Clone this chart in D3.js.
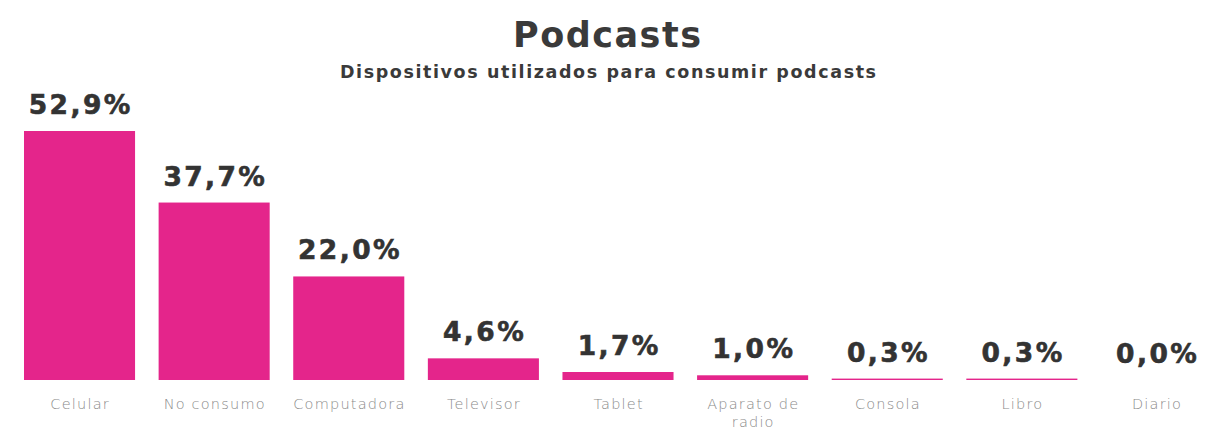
<!DOCTYPE html>
<html><head><meta charset="utf-8">
<script src="https://cdn.jsdelivr.net/npm/d3@7"></script>
<style>body{margin:0;background:#fff}svg{display:block}</style>
</head><body>
<svg id="chart" width="1207" height="432"></svg>
<script>
const categories = ["Celular","No consumo","Computadora","Televisor","Tablet","Aparato de radio","Consola","Libro","Diario"];
const values = [52.9, 37.7, 22.0, 4.6, 1.7, 1.0, 0.3, 0.3, 0.0];
const title = "Podcasts";
const subtitle = "Dispositivos utilizados para consumir podcasts";

const svg = d3.select("#chart");
const baseline = 380;
const x = d3.scaleBand().domain(categories).range([24, 1212]).paddingInner(0.175).paddingOuter(0);
const y = d3.scaleLinear().domain([0, 52.9]).range([baseline, 131]);
const pink = "#E4258B";
const fmt = v => v.toFixed(1).replace(".", ",") + "%";
const font = "'DejaVu Sans', sans-serif";

function centered(sel, ls){
  // compensate trailing letter-spacing so text stays centred
  return sel.attr("letter-spacing", ls).attr("dx", ls/2);
}

centered(svg.append("text").attr("x", 607).attr("y", 47).attr("text-anchor","middle")
  .attr("font-family",font).attr("font-weight","bold")
  .attr("font-size",35).attr("fill","#3a3a3a").text(title), 1.5);
centered(svg.append("text").attr("x", 608).attr("y", 78).attr("text-anchor","middle")
  .attr("font-family",font).attr("font-weight","bold")
  .attr("font-size",17.5).attr("fill","#3a3a3a").text(subtitle), 1.6);

svg.selectAll("rect.bar").data(values).join("rect").attr("class","bar")
  .attr("x",(d,i)=>x(categories[i])).attr("width",x.bandwidth())
  .attr("y",d=>y(d)).attr("height",d=>baseline-y(d)).attr("fill",pink);

centered(svg.selectAll("text.val").data(values).join("text").attr("class","val")
  .attr("x",(d,i)=>x(categories[i])+x.bandwidth()/2)
  .attr("y",d=>y(d)-17).attr("text-anchor","middle")
  .attr("font-family",font).attr("font-weight","bold")
  .attr("font-size",26.5).attr("fill","#333").attr("stroke","#333").attr("stroke-width",0.6).text(fmt), 2.4);

const axis = d3.axisBottom(x).tickSize(0).tickPadding(0);
const g = svg.append("g").attr("transform",`translate(0,${baseline})`).call(axis);
g.select(".domain").remove();
g.selectAll(".tick text").attr("font-family",font).attr("font-weight","200")
  .attr("font-size",14.5).attr("fill","#8a8a8a").attr("dy",null).attr("y",0)
  .each(function(d){
    const t = d3.select(this); t.text(null);
    const lines = d === "Aparato de radio" ? ["Aparato de","radio"] : [d];
    lines.forEach((l,k)=>t.append("tspan").attr("x",0.6).attr("y",29 + k*18)
      .attr("letter-spacing",1.2).text(l));
  });
</script>
</body></html>
